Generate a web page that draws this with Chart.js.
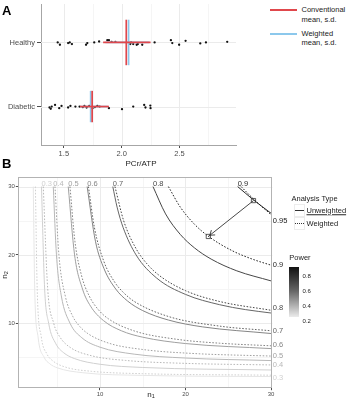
<!DOCTYPE html>
<html>
<head>
<meta charset="utf-8">
<script src="https://cdn.jsdelivr.net/npm/chart.js@4.4.1/dist/chart.umd.min.js"></script>
<style>
  html, body { margin: 0; padding: 0; background: #fff; }
  #fig { position: relative; width: 348px; height: 400px; overflow: hidden; font-family: 'Liberation Sans', Arial, sans-serif; color: #222; }
  #fig canvas { position: absolute; left: 0; }
  .txt { position: absolute; white-space: nowrap; line-height: 1; transform: translateY(-50%); }
  .mid { transform: translate(-50%, -50%); }
  .panel { font-weight: bold; font-size: 13px; color: #000; }
  .key { position: absolute; }
  sub { font-size: 5.5px; vertical-align: -1px; }
</style>
</head>
<body>
<div id="fig">
  <canvas id="chartA" width="240" height="170" style="top:0"></canvas>
  <canvas id="chartB" width="292" height="230" style="top:170px"></canvas>

  <div class="txt panel" style="left:2px;top:10px">A</div>
  <div class="txt panel" style="left:2px;top:163px">B</div>
  <div class="txt mid" style="left:141px;top:164px;font-size:8px;color:#222">PCr/ATP</div>

  <!-- legend, panel A -->
  <div class="key" style="left:270px;top:9px;width:27px;height:2px;background:#e0474c"></div>
  <div class="txt" style="left:301.5px;top:10px;font-size:7.5px">Conventional</div>
  <div class="txt" style="left:301.5px;top:19.5px;font-size:7.5px">mean, s.d.</div>
  <div class="key" style="left:270px;top:33px;width:27px;height:2px;background:#8cc8ec"></div>
  <div class="txt" style="left:301.5px;top:33.5px;font-size:7.5px">Weighted</div>
  <div class="txt" style="left:301.5px;top:43px;font-size:7.5px">mean, s.d.</div>

  <!-- axis titles, panel B -->
  <div class="txt mid" style="left:151px;top:395px;font-size:8px;color:#222">n<sub>1</sub></div>
  <div class="txt mid" style="left:5px;top:275px;font-size:8px;color:#222;transform:translate(-50%,-50%) rotate(-90deg)">n<sub>2</sub></div>

  <!-- legend, panel B -->
  <div class="txt" style="left:291.5px;top:198.5px;font-size:7.5px">Analysis Type</div>
  <div class="key" style="left:294px;top:203.5px;width:11px;height:13px;border:1px solid #ececec;box-sizing:border-box"></div>
  <div class="key" style="left:294px;top:216.5px;width:11px;height:13px;border:1px solid #ececec;box-sizing:border-box"></div>
  <div class="key" style="left:295px;top:210px;width:9px;height:0;border-top:1px solid #333"></div>
  <div class="key" style="left:295px;top:223px;width:9px;height:0;border-top:1px dotted #333"></div>
  <div class="txt" style="left:306.5px;top:210.5px;font-size:7.5px;text-decoration:underline">Unweighted</div>
  <div class="txt" style="left:306.5px;top:223.5px;font-size:7.5px">Weighted</div>

  <div class="txt" style="left:289.3px;top:257.5px;font-size:7.5px">Power</div>
  <div class="key" style="left:289.3px;top:266.7px;width:10px;height:50px;background:linear-gradient(#111 0%, #666 48%, #ebebeb 100%)"></div>
  <div class="txt" style="left:302.5px;top:276px;font-size:6px">0.8</div>
  <div class="txt" style="left:302.5px;top:291px;font-size:6px">0.6</div>
  <div class="txt" style="left:302.5px;top:306px;font-size:6px">0.4</div>
  <div class="txt" style="left:302.5px;top:320.5px;font-size:6px">0.2</div>
</div>

<script>
// ---------------- panel A data ----------------
const groupNames = ['Diabetic', 'Healthy'];
const groupPos = [1, 2];

const healthyPCr = [1.447, 1.466, 1.537, 1.551, 1.570, 1.692, 1.703, 1.763, 1.805, 1.876,
                    1.890, 1.913, 1.946, 2.074, 2.082, 2.100, 2.130, 2.140, 2.178, 2.285,
                    2.426, 2.438, 2.497, 2.553, 2.680, 2.729, 2.913];
const healthyJitter = [0, -0.036, -0.01, 0, -0.026, -0.036, -0.01, 0, 0.015, 0.036,
                       0.036, 0.01, 0.01, -0.026, 0, -0.026, -0.036, -0.026, -0.036, 0,
                       0.036, -0.01, -0.036, 0.026, -0.015, 0, 0.01];
const diabeticPCr = [1.376, 1.387, 1.395, 1.424, 1.460, 1.480, 1.537, 1.557, 1.600, 1.636,
                     1.664, 1.678, 1.697, 1.720, 1.748, 1.768, 1.790, 1.810, 1.890, 2.003,
                     2.100, 2.195, 2.206, 2.248, 2.250];
const diabeticJitter = [-0.015, -0.036, 0, 0.026, -0.026, 0.01, -0.015, 0.01, 0, 0,
                        -0.01, 0.01, -0.015, 0.01, -0.026, -0.01, 0.01, 0, -0.026, -0.041,
                        0, 0.026, -0.015, 0.015, -0.026];

// Diabetic, Healthy
const convMean = [1.745, 2.040];
const convSdLow = [1.640, 1.840];
const convSdHigh = [1.890, 2.250];
const wtdMean = [1.732, 2.060];
const wtdSdLow = [1.650, 1.860];
const wtdSdHigh = [1.880, 2.240];

const xTicksA = [1.5, 2.0, 2.5];
const xMinorA = [1.75, 2.25, 2.75];

// ---------------- panel B data (n1, n2 pairs) ----------------
const unw02 = [[2.2,30],[2.37,15],[2.76,8],[3.48,5],[4.1,4.1],[5,3.48],[8,2.76],[15,2.37],[30,2.2]];
const unw03 = [[3.16,30],[3.53,15],[4.0,10],[4.84,7],[5.72,5.72],[7,4.84],[10,4.0],[15,3.53],[30,3.16]];
const unw04 = [[4.54,30],[4.91,20],[5.48,14],[6.5,10],[7.88,7.88],[10,6.5],[14,5.48],[20,4.91],[30,4.54]];
const unw05 = [[6.29,30],[7.03,20],[7.96,15],[8.9,12.5],[10.4,10.4],[12.5,8.9],[15,7.96],[20,7.03],[30,6.29]];
const unw06 = [[8.5,30],[9.47,22],[10.47,18],[11.85,15],[13.24,13.24],[15,11.85],[18,10.47],[22,9.47],[30,8.5]];
const unw07 = [[11.5,30],[12.0,27],[12.71,24],[14.22,20],[16.62,16.62],[20,14.22],[24,12.71],[27,12.0],[30,11.5]];
const unw08 = [[16.2,30],[17.67,26],[19.39,23],[21.04,21.04],[23,19.39],[26,17.67],[30,16.2]];
const unw09 = [[26.1,30],[28.0,28.0],[30,26.1]];

const wtd03 = [[2.45,30],[2.66,15],[3.14,8],[3.8,5.5],[4.5,4.48],[6,3.57],[9,2.97],[15,2.62],[30,2.4]];
const wtd04 = [[3.37,30],[3.89,15],[4.59,10],[5.31,8],[6.5,6.48],[9,5.25],[13,4.56],[20,4.13],[30,3.9]];
const wtd05 = [[4.74,30],[5.2,20],[5.94,14],[6.82,11],[7.5,9.73],[8.5,8.56],[11,7.1],[15,6.16],[21,5.57],[30,5.2]];
const wtd06 = [[6.49,30],[7.07,22],[7.84,17],[8.74,14],[9.8,12.0],[11,10.64],[14,8.88],[19,7.65],[24,7.08],[30,6.7]];
const wtd07 = [[8.65,30],[9.35,24],[10.47,19],[11.73,16],[12.7,14.55],[14,13.2],[18,10.99],[24,9.58],[30,8.9]];
const wtd08 = [[11.75,30],[12.77,25],[14.18,21],[15.5,18.69],[17,16.93],[20,14.77],[24,13.18],[30,11.9]];
const wtd09 = [[18,30],[19.39,27],[21.04,24.5],[22.67,22.73],[25.5,20.59],[28,19.3],[30,18.5]];
const wtd095 = [[26.5,30],[28.1,28.0],[30,25.9]];

const topLabelLevels = ['0.3', '0.4', '0.5', '0.6', '0.7', '0.8', '0.9'];
const topLabelN1 = [3.16, 4.54, 6.29, 8.5, 11.5, 16.2, 26.1];
const rightLabelLevels = ['0.95', '0.9', '0.8', '0.7', '0.6', '0.5', '0.4', '0.3'];
const rightLabelN2 = [24.9, 18.5, 12.2, 8.9, 6.8, 5.2, 3.9, 2.0];

const arrowFrom = [27.95, 27.95];
const arrowTo = [22.67, 22.7];

const ticksB = [10, 20, 30];
const minorB = [5, 15, 25];

// ---------------- styles ----------------
const RED = '#e0474c', BLUE = '#8cc8ec';
const meanBarHalf = [0.245, 0.355];
const levelGray = {'0.2':'#e6e6e6','0.3':'#d0d0d0','0.4':'#b8b8b8','0.5':'#a0a0a0','0.6':'#858585',
                   '0.7':'#666666','0.8':'#474747','0.9':'#272727','0.95':'#161616'};

Chart.defaults.font.family = "'Liberation Sans', Arial, sans-serif";
Chart.defaults.animation = false;
Chart.defaults.plugins.legend.display = false;
Chart.defaults.plugins.tooltip.enabled = false;

// axis boxes: fixed size, no extra label padding so the plot areas sit where the reference has them
const fixBox = size => s => {
  if (s.isHorizontal()) s.height = size; else s.width = size;
  s.paddingTop = 0; s.paddingBottom = 0; s.paddingLeft = 0; s.paddingRight = 0;
};

// light ggplot style grid, plus optional frame
const panelGrid = {
  id: 'panelGrid',
  beforeDatasetsDraw(chart, args, o) {
    const {ctx, chartArea: a, scales: {x, y}} = chart;
    ctx.save();
    ctx.lineWidth = 1;
    const vx = (v, c) => { const p = Math.round(x.getPixelForValue(v)) + 0.5;
      ctx.strokeStyle = c; ctx.beginPath(); ctx.moveTo(p, a.top); ctx.lineTo(p, a.bottom); ctx.stroke(); };
    const hy = (v, c) => { const p = Math.round(y.getPixelForValue(v)) + 0.5;
      ctx.strokeStyle = c; ctx.beginPath(); ctx.moveTo(a.left, p); ctx.lineTo(a.right, p); ctx.stroke(); };
    (o.xMinor || []).forEach(v => vx(v, '#f5f5f5'));
    (o.yMinor || []).forEach(v => hy(v, '#f5f5f5'));
    (o.xMajor || []).forEach(v => vx(v, '#ebebeb'));
    (o.yMajor || []).forEach(v => hy(v, '#ebebeb'));
    ctx.restore();
  },
  afterDatasetsDraw(chart, args, o) {
    if (!o.frame) return;
    const {ctx, chartArea: a} = chart;
    ctx.save();
    ctx.strokeStyle = o.frame; ctx.lineWidth = 1;
    ctx.strokeRect(Math.round(a.left) + 0.5, Math.round(a.top) + 0.5,
                   Math.round(a.right - a.left) - 1, Math.round(a.bottom - a.top) - 1);
    ctx.restore();
  }
};

// ---------------- panel A ----------------
const segA = [];
groupPos.forEach((g, i) => {
  const h = meanBarHalf[i];
  segA.push({c: RED, pts: [{x: convMean[i], y: g - h}, {x: convMean[i], y: g + h}]});
  segA.push({c: RED, pts: [{x: convSdLow[i], y: g}, {x: convSdHigh[i], y: g}]});
});
groupPos.forEach((g, i) => {
  const h = meanBarHalf[i];
  segA.push({c: BLUE, pts: [{x: wtdMean[i], y: g - h}, {x: wtdMean[i], y: g + h}]});
  segA.push({c: BLUE, pts: [{x: wtdSdLow[i], y: g}, {x: wtdSdHigh[i], y: g}]});
});

const dotsA = healthyPCr.map((v, i) => ({x: v, y: 2 + healthyJitter[i]}))
  .concat(diabeticPCr.map((v, i) => ({x: v, y: 1 + diabeticJitter[i]})));

new Chart(document.getElementById('chartA'), {
  type: 'scatter',
  data: {
    datasets: segA.map(s => ({data: s.pts, showLine: true, borderColor: s.c, borderWidth: 1.7, pointRadius: 0}))
      .concat([{data: dotsA, pointRadius: 1.15, pointBorderWidth: 0, backgroundColor: '#111'}])
  },
  options: {
    responsive: false,
    devicePixelRatio: 1,
    layout: {padding: 0},
    plugins: {panelGrid: {xMajor: xTicksA, xMinor: xMinorA, yMajor: groupPos}},
    scales: {
      x: {
        type: 'linear', min: 1.3025, max: 2.989,
        afterBuildTicks: s => { s.ticks = xTicksA.map(v => ({value: v})); },
        afterFit: fixBox(25),
        ticks: {callback: v => v.toFixed(1), font: {size: 7.5}, color: '#4d4d4d', padding: 1, maxRotation: 0, autoSkip: false},
        grid: {drawOnChartArea: false, tickLength: 3, tickColor: '#4d4d4d'},
        border: {display: true, color: '#a6a6a6', width: 1}
      },
      y: {
        type: 'linear', min: 0.4, max: 2.6,
        afterBuildTicks: s => { s.ticks = groupPos.map(v => ({value: v})); },
        afterFit: fixBox(41),
        ticks: {callback: (v, i) => groupNames[i], font: {size: 7.5}, color: '#4d4d4d', padding: 2, autoSkip: false},
        grid: {drawOnChartArea: false, tickLength: 4, tickColor: '#4d4d4d'},
        border: {display: true, color: '#a6a6a6', width: 1}
      }
    }
  },
  plugins: [panelGrid]
});

// ---------------- panel B ----------------
const curves = [
  {pts: wtd095, lv: '0.95', dash: true},
  {pts: unw09, lv: '0.9', dash: false},
  {pts: wtd09, lv: '0.9', dash: true},
  {pts: unw08, lv: '0.8', dash: false},
  {pts: wtd08, lv: '0.8', dash: true},
  {pts: unw07, lv: '0.7', dash: false},
  {pts: wtd07, lv: '0.7', dash: true},
  {pts: unw06, lv: '0.6', dash: false},
  {pts: wtd06, lv: '0.6', dash: true},
  {pts: unw05, lv: '0.5', dash: false},
  {pts: wtd05, lv: '0.5', dash: true},
  {pts: unw04, lv: '0.4', dash: false},
  {pts: wtd04, lv: '0.4', dash: true},
  {pts: unw03, lv: '0.3', dash: false},
  {pts: wtd03, lv: '0.3', dash: true},
  {pts: unw02, lv: '0.2', dash: false}
];

const contourLabels = {
  id: 'contourLabels',
  afterDatasetsDraw(chart) {
    const {ctx, scales: {x, y}, chartArea: a} = chart;
    ctx.save();
    // arrow head
    const x0 = x.getPixelForValue(arrowFrom[0]), y0 = y.getPixelForValue(arrowFrom[1]);
    const x1 = x.getPixelForValue(arrowTo[0]), y1 = y.getPixelForValue(arrowTo[1]);
    const ang = Math.atan2(y1 - y0, x1 - x0);
    ctx.strokeStyle = '#333'; ctx.lineWidth = 0.9;
    ctx.beginPath();
    [-0.45, 0.45].forEach(d => {
      ctx.moveTo(x1 - 2 * Math.cos(ang), y1 - 2 * Math.sin(ang));
      ctx.lineTo(x1 - 7 * Math.cos(ang + d), y1 - 7 * Math.sin(ang + d));
    });
    ctx.stroke();
    // labels
    ctx.font = "7.5px 'Liberation Sans', Arial, sans-serif";
    ctx.textBaseline = 'middle';
    ctx.textAlign = 'left';
    topLabelLevels.forEach((lv, i) => {
      ctx.fillStyle = levelGray[lv];
      ctx.fillText(lv, x.getPixelForValue(topLabelN1[i]), y.getPixelForValue(30.4));
    });
    rightLabelLevels.forEach((lv, i) => {
      ctx.fillStyle = levelGray[lv];
      ctx.fillText(lv, a.right + 0.5, y.getPixelForValue(rightLabelN2[i]));
    });
    ctx.restore();
  }
};

new Chart(document.getElementById('chartB'), {
  type: 'scatter',
  data: {
    datasets: [
      {data: [{x: arrowFrom[0], y: arrowFrom[1]}, {x: arrowTo[0], y: arrowTo[1]}],
       pointStyle: 'rect', pointRadius: 3, borderColor: '#333', borderWidth: 0.8, backgroundColor: 'rgba(0,0,0,0)'},
      {data: [{x: arrowFrom[0], y: arrowFrom[1]}, {x: arrowTo[0], y: arrowTo[1]}],
       showLine: true, pointRadius: 0, borderColor: '#333', borderWidth: 0.9}
    ].concat(curves.map(c => ({
      data: c.pts.map(p => ({x: p[0], y: p[1]})),
      showLine: true, pointRadius: 0,
      borderColor: levelGray[c.lv], borderWidth: 1,
      borderDash: c.dash ? [1.6, 1.6] : [],
      cubicInterpolationMode: 'monotone'
    })))
  },
  options: {
    responsive: false,
    devicePixelRatio: 1,
    layout: {padding: {top: 7, right: 19.7, left: 0, bottom: 0}},
    plugins: {panelGrid: {xMajor: ticksB, xMinor: minorB, yMajor: ticksB, yMinor: minorB, frame: '#b3b3b3'}},
    scales: {
      x: {
        type: 'linear', min: 0.45, max: 30.15,
        afterBuildTicks: s => { s.ticks = ticksB.map(v => ({value: v})); },
        afterFit: fixBox(12.3),
        ticks: {font: {size: 6}, color: '#4d4d4d', padding: 1, maxRotation: 0, autoSkip: false},
        grid: {drawOnChartArea: false, tickLength: 2.5, tickColor: '#4d4d4d'},
        border: {display: false}
      },
      y: {
        type: 'linear', min: 0.57, max: 31.4,
        afterBuildTicks: s => { s.ticks = ticksB.map(v => ({value: v})); },
        afterFit: fixBox(18.3),
        ticks: {font: {size: 6}, color: '#4d4d4d', padding: 1, autoSkip: false},
        grid: {drawOnChartArea: false, tickLength: 2.5, tickColor: '#4d4d4d'},
        border: {display: false}
      }
    }
  },
  plugins: [panelGrid, contourLabels]
});
</script>
</body>
</html>
